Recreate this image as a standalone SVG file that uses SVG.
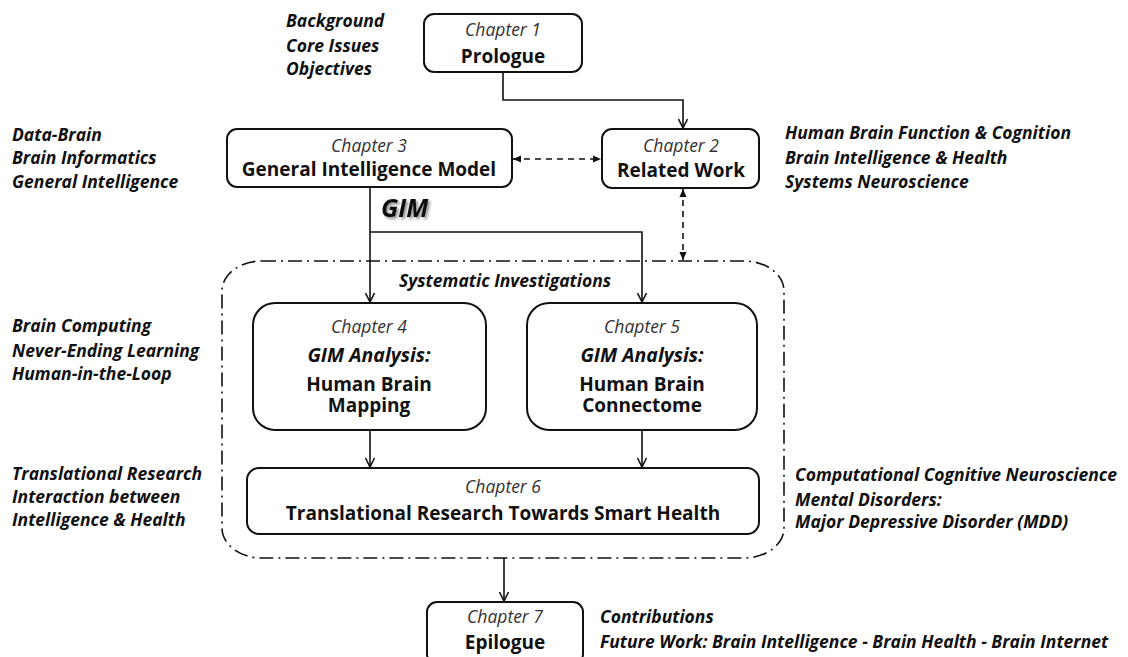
<svg xmlns="http://www.w3.org/2000/svg" width="1128" height="657" viewBox="0 0 1128 657">
  <style>
    .box { fill: #fff; stroke: #111; stroke-width: 2; }
    .wire { fill: none; stroke: #111; stroke-width: 1.6; }
    .dash { fill: none; stroke: #111; stroke-width: 1.6; stroke-dasharray: 6 5; }
    .frame { fill: none; stroke: #111; stroke-width: 1.6; stroke-dasharray: 14 5 2 5; }
    text { font-family: "Open Sans", "Noto Sans", "Liberation Sans", sans-serif; fill: #111; }
    .note { font-size: 17.5px; font-weight: 700; font-style: italic; }
    .chap { font-size: 17.5px; font-style: italic; fill: #333; text-anchor: middle; }
    .title { font-size: 19px; font-weight: 700; text-anchor: middle; }
    .sub { font-size: 19.5px; font-weight: 700; font-style: italic; text-anchor: middle; }
  </style>
  <defs>
    <marker id="open" viewBox="0 0 12 12" refX="11" refY="6" markerWidth="12" markerHeight="12" markerUnits="userSpaceOnUse" orient="auto">
      <path d="M2,1.5 L11,6 L2,10.5" fill="none" stroke="#111" stroke-width="1.6"/>
    </marker>
    <marker id="tri" viewBox="0 0 10 10" refX="9" refY="5" markerWidth="9" markerHeight="9" markerUnits="userSpaceOnUse" orient="auto-start-reverse">
      <path d="M0,1 L9,5 L0,9 Z" fill="#111"/>
    </marker>
    <filter id="shadow" x="-20%" y="-20%" width="150%" height="150%">
      <feDropShadow dx="2" dy="2" stdDeviation="1.5" flood-color="#000" flood-opacity="0.45"/>
    </filter>
  </defs>

  <!-- side notes -->
  <g id="notes" class="note">
    <text x="286" y="27">Background</text>
    <text x="286" y="52">Core Issues</text>
    <text x="286" y="75">Objectives</text>
    <text x="12" y="141">Data-Brain</text>
    <text x="12" y="164">Brain Informatics</text>
    <text x="12" y="188">General Intelligence</text>
    <text x="785" y="139">Human Brain Function &amp; Cognition</text>
    <text x="785" y="164">Brain Intelligence &amp; Health</text>
    <text x="785" y="188">Systems Neuroscience</text>
    <text x="12" y="332">Brain Computing</text>
    <text x="12" y="357">Never-Ending Learning</text>
    <text x="12" y="380">Human-in-the-Loop</text>
    <text x="12" y="480">Translational Research</text>
    <text x="12" y="503">Interaction between</text>
    <text x="12" y="526">Intelligence &amp; Health</text>
    <text x="795" y="481">Computational Cognitive Neuroscience</text>
    <text x="795" y="506">Mental Disorders:</text>
    <text x="795" y="528">Major Depressive Disorder (MDD)</text>
    <text x="600" y="623">Contributions</text>
    <text x="600" y="648">Future Work: Brain Intelligence - Brain Health - Brain Internet</text>
  </g>

  <!-- systematic investigations frame -->
  <g id="investigations">
    <rect class="frame" x="222" y="261" width="562" height="297" rx="40" ry="30"/>
    <text class="note" x="505" y="287" text-anchor="middle">Systematic Investigations</text>
  </g>

  <!-- connectors -->
  <g id="connectors">
    <path class="wire" d="M503,72 V100 H683 V128" marker-end="url(#open)"/>
    <path class="dash" d="M513,159 H601" marker-start="url(#tri)" marker-end="url(#tri)"/>
    <path class="dash" d="M683,189 V260" marker-start="url(#tri)" marker-end="url(#tri)"/>
    <path class="wire" d="M370,187 V302" marker-end="url(#open)"/>
    <path class="wire" d="M370,232 H642 V302" marker-end="url(#open)"/>
    <path class="wire" d="M370,430 V467" marker-end="url(#open)"/>
    <path class="wire" d="M642,430 V467" marker-end="url(#open)"/>
    <path class="wire" d="M504,558 V601" marker-end="url(#open)"/>
  </g>

  <text id="gim-label" x="381" y="217" font-size="25" font-weight="700" font-style="italic" filter="url(#shadow)">GIM</text>

  <g id="ch1">
    <rect class="box" x="424" y="14" width="158" height="58" rx="10"/>
    <text class="chap" x="503" y="36">Chapter 1</text>
    <text class="title" x="503" y="63">Prologue</text>
  </g>

  <g id="ch2">
    <rect class="box" x="602" y="129" width="157" height="59" rx="10"/>
    <text class="chap" x="681" y="152">Chapter 2</text>
    <text class="title" x="681" y="177">Related Work</text>
  </g>

  <g id="ch3">
    <rect class="box" x="227" y="129" width="285" height="58" rx="10"/>
    <text class="chap" x="369" y="152">Chapter 3</text>
    <text class="title" x="369" y="176">General Intelligence Model</text>
  </g>

  <g id="ch4">
    <rect class="box" x="253" y="303" width="233" height="127" rx="22"/>
    <text class="chap" x="369" y="333">Chapter 4</text>
    <text class="sub" x="369" y="362">GIM Analysis:</text>
    <text class="title" x="369" y="391">Human Brain</text>
    <text class="title" x="369" y="412">Mapping</text>
  </g>

  <g id="ch5">
    <rect class="box" x="527" y="303" width="230" height="127" rx="22"/>
    <text class="chap" x="642" y="333">Chapter 5</text>
    <text class="sub" x="642" y="362">GIM Analysis:</text>
    <text class="title" x="642" y="391">Human Brain</text>
    <text class="title" x="642" y="412">Connectome</text>
  </g>

  <g id="ch6">
    <rect class="box" x="247" y="468" width="512" height="66" rx="12"/>
    <text class="chap" x="503" y="493">Chapter 6</text>
    <text class="title" x="503" y="520" font-size="19.5">Translational Research Towards Smart Health</text>
  </g>

  <g id="ch7">
    <rect class="box" x="427" y="602" width="156" height="62" rx="10"/>
    <text class="chap" x="505" y="623">Chapter 7</text>
    <text class="title" x="505" y="649">Epilogue</text>
  </g>
</svg>
